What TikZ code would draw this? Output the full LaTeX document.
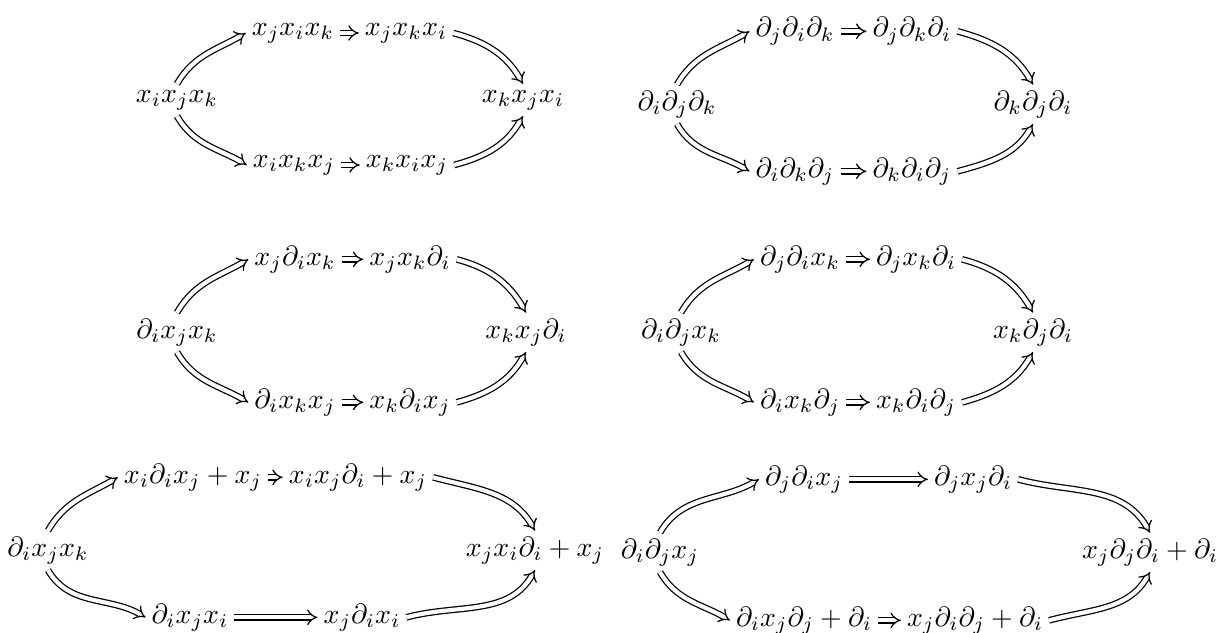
\documentclass[tikz,border=0pt]{standalone}
\usetikzlibrary{arrows.meta}
\tikzset{
  term/.style={inner sep=2pt, anchor=base},
  imp/.style={double, double distance=1.5pt, line width=0.45pt, -{Implies[scale=1.25]}}
}

\begin{document}
\begin{tikzpicture}[x=0.36pt,y=0.36pt]
            \useasboundingbox (0,0) rectangle (1218,-632);

            % x x x
            \node[term] (p1l) at (177,-102) {$x_ix_jx_k$};
            \node[term] (p1u1) at (293,-35) {$x_jx_ix_k$};
            \node[term] (p1u2) at (406,-35) {$x_jx_kx_i$};
            \node[term] (p1d1) at (294,-167) {$x_ix_kx_j$};
            \node[term] (p1d2) at (407,-167) {$x_kx_ix_j$};
            \node[term] (p1r) at (523,-102) {$x_kx_jx_i$};
            \draw[imp] (p1l.north) to[out=60,in=210] (p1u1.west);
            \draw[imp] (p1u1) -- (p1u2);
            \draw[imp] (p1u2.east) to[out=-15,in=120] (p1r.north);
            \draw[imp] (p1l.south) to[out=-60,in=150] (p1d1.west);
            \draw[imp] (p1d1) -- (p1d2);
            \draw[imp] (p1d2.east) to[out=15,in=-120] (p1r.south);

            % d d d
            \node[term] (p2l) at (677,-110) {$\partial_i\partial_j\partial_k$};
            \node[term] (p2u1) at (795,-37) {$\partial_j\partial_i\partial_k$};
            \node[term] (p2u2) at (912,-37) {$\partial_j\partial_k\partial_i$};
            \node[term] (p2d1) at (795,-177) {$\partial_i\partial_k\partial_j$};
            \node[term] (p2d2) at (912,-177) {$\partial_k\partial_i\partial_j$};
            \node[term] (p2r) at (1033,-110) {$\partial_k\partial_j\partial_i$};
            \draw[imp] (p2l.north) to[out=60,in=210] (p2u1.west);
            \draw[imp] (p2u1) -- (p2u2);
            \draw[imp] (p2u2.east) to[out=-15,in=120] (p2r.north);
            \draw[imp] (p2l.south) to[out=-60,in=150] (p2d1.west);
            \draw[imp] (p2d1) -- (p2d2);
            \draw[imp] (p2d2.east) to[out=15,in=-120] (p2r.south);

            % d x x
            \node[term] (p3l) at (177,-338) {$\partial_ix_jx_k$};
            \node[term] (p3u1) at (295,-265) {$x_j\partial_ix_k$};
            \node[term] (p3u2) at (410,-265) {$x_jx_k\partial_i$};
            \node[term] (p3d1) at (295,-408) {$\partial_ix_kx_j$};
            \node[term] (p3d2) at (410,-408) {$x_k\partial_ix_j$};
            \node[term] (p3r) at (526,-338) {$x_kx_j\partial_i$};
            \draw[imp] (p3l.north) to[out=60,in=210] (p3u1.west);
            \draw[imp] (p3u1) -- (p3u2);
            \draw[imp] (p3u2.east) to[out=-15,in=120] (p3r.north);
            \draw[imp] (p3l.south) to[out=-60,in=150] (p3d1.west);
            \draw[imp] (p3d1) -- (p3d2);
            \draw[imp] (p3d2.east) to[out=15,in=-120] (p3r.south);

            % d d x
            \node[term] (p4l) at (681,-338) {$\partial_i\partial_jx_k$};
            \node[term] (p4u1) at (800,-265) {$\partial_j\partial_ix_k$};
            \node[term] (p4u2) at (916,-265) {$\partial_jx_k\partial_i$};
            \node[term] (p4d1) at (800,-408) {$\partial_ix_k\partial_j$};
            \node[term] (p4d2) at (916,-408) {$x_k\partial_i\partial_j$};
            \node[term] (p4r) at (1033,-338) {$x_k\partial_j\partial_i$};
            \draw[imp] (p4l.north) to[out=60,in=210] (p4u1.west);
            \draw[imp] (p4u1) -- (p4u2);
            \draw[imp] (p4u2.east) to[out=-15,in=120] (p4r.north);
            \draw[imp] (p4l.south) to[out=-60,in=150] (p4d1.west);
            \draw[imp] (p4d1) -- (p4d2);
            \draw[imp] (p4d2.east) to[out=15,in=-120] (p4r.south);

            % d x x, i = j
            \node[term] (p5l) at (48,-556) {$\partial_ix_jx_k$};
            \node[term] (p5u1) at (193,-483) {$x_i\partial_ix_j+x_j$};
            \node[term] (p5u2) at (358,-483) {$x_ix_j\partial_i+x_j$};
            \node[term] (p5d1) at (190,-623) {$\partial_ix_jx_i$};
            \node[term] (p5d2) at (362,-623) {$x_j\partial_ix_i$};
            \node[term] (p5r) at (535,-556) {$x_jx_i\partial_i+x_j$};
            \draw[imp] (p5l.north) to[out=60,in=210] (p5u1.west);
            \draw[imp] (p5u1) -- (p5u2);
            \draw[imp] (p5u2.east) to[out=-15,in=120] (p5r.north);
            \draw[imp] (p5l.south) to[out=-60,in=150] (p5d1.west);
            \draw[imp] (p5d1) -- (p5d2);
            \draw[imp] (p5d2.east) to[out=15,in=-120] (p5r.south);

            % d d x, i = j
            \node[term] (p6l) at (660,-558) {$\partial_i\partial_jx_j$};
            \node[term] (p6u1) at (804,-485) {$\partial_j\partial_ix_j$};
            \node[term] (p6u2) at (973,-485) {$\partial_jx_j\partial_i$};
            \node[term] (p6d1) at (804,-626) {$\partial_ix_j\partial_j+\partial_i$};
            \node[term] (p6d2) at (975,-626) {$x_j\partial_i\partial_j+\partial_i$};
            \node[term] (p6r) at (1150,-558) {$x_j\partial_j\partial_i+\partial_i$};
            \draw[imp] (p6l.north) to[out=60,in=210] (p6u1.west);
            \draw[imp] (p6u1) -- (p6u2);
            \draw[imp] (p6u2.east) to[out=-15,in=120] (p6r.north);
            \draw[imp] (p6l.south) to[out=-60,in=150] (p6d1.west);
            \draw[imp] (p6d1) -- (p6d2);
            \draw[imp] (p6d2.east) to[out=15,in=-120] (p6r.south);
\end{tikzpicture}
\end{document}
